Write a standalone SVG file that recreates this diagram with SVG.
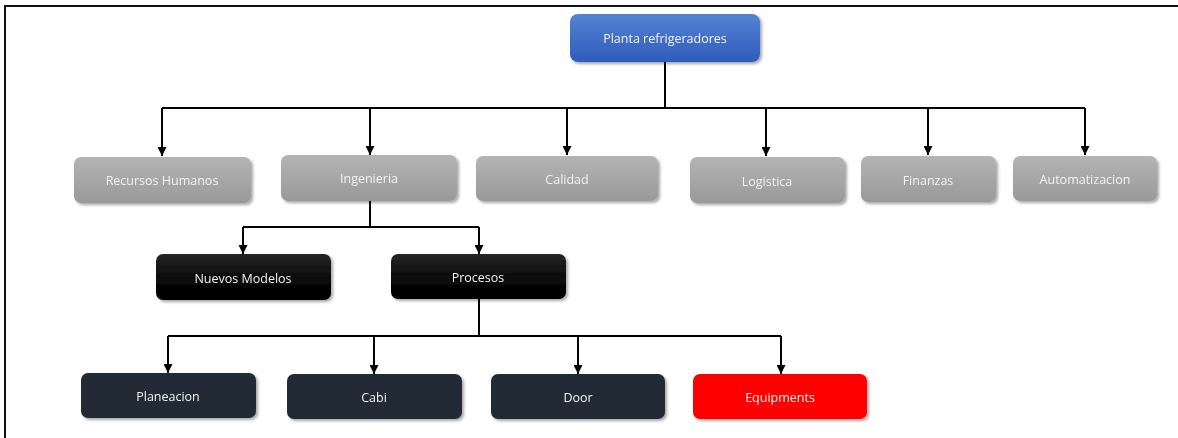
<svg xmlns="http://www.w3.org/2000/svg" width="1178" height="438" viewBox="0 0 1178 438">
  <defs>
    <linearGradient id="gBlue" x1="0" y1="0" x2="0" y2="1">
      <stop offset="0" stop-color="#5582d4"/>
      <stop offset="1" stop-color="#2e5cbc"/>
    </linearGradient>
    <linearGradient id="gGrey" x1="0" y1="0" x2="0" y2="1">
      <stop offset="0" stop-color="#b4b4b4"/>
      <stop offset="1" stop-color="#999999"/>
    </linearGradient>
    <linearGradient id="gBlack" x1="0" y1="0" x2="0" y2="1">
      <stop offset="0" stop-color="#262626"/>
      <stop offset="0.6" stop-color="#080808"/>
      <stop offset="1" stop-color="#000000"/>
    </linearGradient>
    <filter id="shadow" x="-10%" y="-20%" width="125%" height="150%">
      <feGaussianBlur in="SourceAlpha" stdDeviation="1.5"/>
      <feOffset dx="1.5" dy="2" result="b"/>
      <feComponentTransfer><feFuncA type="linear" slope="0.35"/></feComponentTransfer>
      <feMerge><feMergeNode/><feMergeNode in="SourceGraphic"/></feMerge>
    </filter>
    <marker id="arrow" viewBox="0 0 10 10" refX="10" refY="5" markerWidth="4.5" markerHeight="4.5" markerUnits="strokeWidth" orient="auto">
      <path d="M0,0 L10,5 L0,10 z" fill="#000"/>
    </marker>
  </defs>
  <style>
    .box { filter: url(#shadow); }
    .blue { fill: url(#gBlue); }
    .grey { fill: url(#gGrey); }
    .black { fill: url(#gBlack); }
    .dark { fill: #232a35; }
    .red { fill: #ff0000; }
    .lbl { font-family: "Open Sans", "Liberation Sans", sans-serif; font-size: 12.5px; fill: #f2f2f2; text-anchor: middle; dominant-baseline: central; }
    .wire { fill: none; stroke: #000; stroke-width: 2; }
    .frame { fill: none; stroke: #111; stroke-width: 2; }
  </style>

  <rect x="0" y="0" width="1178" height="438" fill="#ffffff"/>
  <!-- page frame -->
  <path class="frame" d="M5,438 V6 H1178"/>

  <!-- connectors -->
  <g id="connectors">
    <path class="wire" d="M665,62 V108"/>
    <path class="wire" d="M162,108 H1085"/>
    <path class="wire" marker-end="url(#arrow)" d="M162,108 V156"/>
    <path class="wire" marker-end="url(#arrow)" d="M370,108 V155"/>
    <path class="wire" marker-end="url(#arrow)" d="M567,108 V155"/>
    <path class="wire" marker-end="url(#arrow)" d="M766,108 V156"/>
    <path class="wire" marker-end="url(#arrow)" d="M928,108 V155"/>
    <path class="wire" marker-end="url(#arrow)" d="M1085,108 V155"/>

    <path class="wire" d="M370,201 V227 M243,227 H479"/>
    <path class="wire" marker-end="url(#arrow)" d="M243,227 V254"/>
    <path class="wire" marker-end="url(#arrow)" d="M479,227 V254"/>

    <path class="wire" d="M479,299 V336 M168,336 H781"/>
    <path class="wire" marker-end="url(#arrow)" d="M168,336 V373"/>
    <path class="wire" marker-end="url(#arrow)" d="M374,336 V374"/>
    <path class="wire" marker-end="url(#arrow)" d="M578,336 V374"/>
    <path class="wire" marker-end="url(#arrow)" d="M781,336 V374"/>
  </g>

  <!-- top -->
  <g id="planta" class="box">
    <rect class="blue" x="570" y="14" width="190" height="48" rx="8"/>
    <text class="lbl" x="665" y="38">Planta refrigeradores</text>
  </g>

  <!-- departments -->
  <g id="recursos-humanos" class="box">
    <rect class="grey" x="74" y="157" width="177" height="46" rx="7"/>
    <text class="lbl" x="162" y="180">Recursos Humanos</text>
  </g>
  <g id="ingenieria" class="box">
    <rect class="grey" x="281" y="155" width="176" height="46" rx="7"/>
    <text class="lbl" x="369" y="178">Ingenieria</text>
  </g>
  <g id="calidad" class="box">
    <rect class="grey" x="476" y="156" width="182" height="45" rx="7"/>
    <text class="lbl" x="567" y="179">Calidad</text>
  </g>
  <g id="logistica" class="box">
    <rect class="grey" x="690" y="157" width="155" height="46" rx="7"/>
    <text class="lbl" x="767" y="181">Logistica</text>
  </g>
  <g id="finanzas" class="box">
    <rect class="grey" x="861" y="156" width="135" height="46" rx="7"/>
    <text class="lbl" x="928" y="180">Finanzas</text>
  </g>
  <g id="automatizacion" class="box">
    <rect class="grey" x="1013" y="156" width="144" height="45" rx="7"/>
    <text class="lbl" x="1085" y="179">Automatizacion</text>
  </g>

  <!-- engineering sub-areas -->
  <g id="nuevos-modelos" class="box">
    <rect class="black" x="156" y="254" width="175" height="46" rx="7"/>
    <text class="lbl" x="243" y="278">Nuevos Modelos</text>
  </g>
  <g id="procesos" class="box">
    <rect class="black" x="391" y="254" width="175" height="45" rx="7"/>
    <text class="lbl" x="478" y="277">Procesos</text>
  </g>

  <!-- process areas -->
  <g id="planeacion" class="box">
    <rect class="dark" x="81" y="373" width="175" height="45" rx="7"/>
    <text class="lbl" x="168" y="396">Planeacion</text>
  </g>
  <g id="cabi" class="box">
    <rect class="dark" x="287" y="374" width="175" height="45" rx="7"/>
    <text class="lbl" x="374" y="397">Cabi</text>
  </g>
  <g id="door" class="box">
    <rect class="dark" x="491" y="374" width="174" height="45" rx="7"/>
    <text class="lbl" x="578" y="397">Door</text>
  </g>
  <g id="equipments" class="box">
    <rect class="red" x="693" y="374" width="174" height="45" rx="7"/>
    <text class="lbl" x="780" y="397">Equipments</text>
  </g>
</svg>
